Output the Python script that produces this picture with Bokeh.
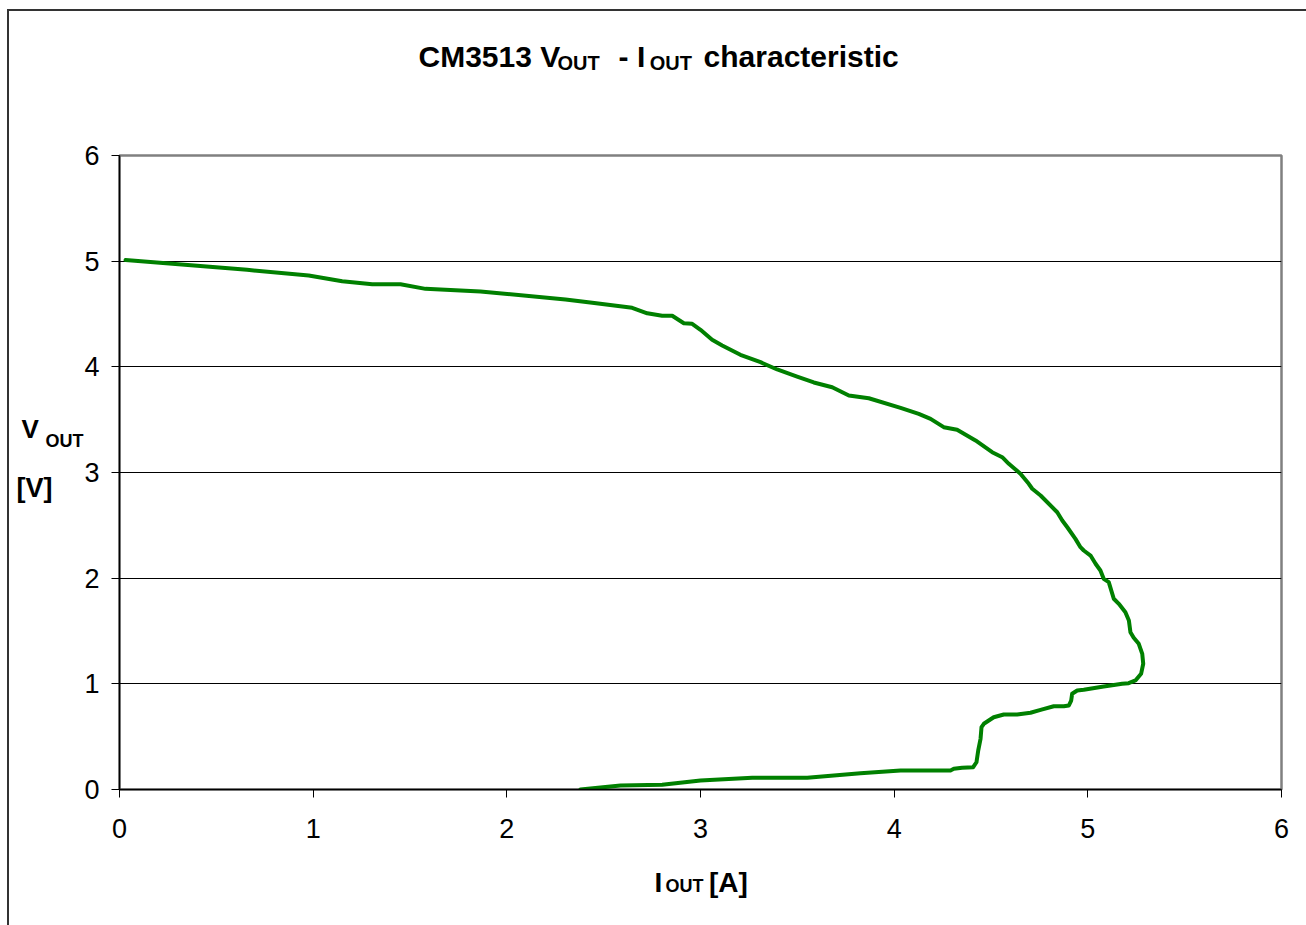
from bokeh.plotting import figure
from bokeh.models import Range1d, FixedTicker, Label
from bokeh.embed import file_html
from bokeh.resources import INLINE

# ---- data ----
i_out = [0.031, 0.659, 0.977, 1.150, 1.305, 1.451, 1.580, 1.864, 2.303, 2.441,
         2.647, 2.725, 2.802, 2.854, 2.914, 2.957, 3.000, 3.060, 3.112, 3.206,
         3.310, 3.396, 3.499, 3.585, 3.680, 3.766, 3.869, 4.033, 4.127, 4.188,
         4.256, 4.325, 4.420, 4.506, 4.558, 4.592, 4.652, 4.695, 4.713, 4.756,
         4.842, 4.868, 4.894, 4.936, 4.962, 4.979, 5.014, 5.040, 5.065, 5.082,
         5.108, 5.134, 5.160, 5.194, 5.212, 5.220, 5.237, 5.263, 5.281, 5.286,
         5.275, 5.246, 5.211, 5.177, 5.143, 5.082, 4.979, 4.945, 4.919, 4.914,
         4.902, 4.876, 4.824, 4.756, 4.704, 4.635, 4.566, 4.514, 4.463, 4.451,
         4.446, 4.434, 4.425, 4.408, 4.351, 4.308, 4.291, 4.033, 3.826, 3.551,
         3.267, 3.000, 2.802, 2.587, 2.380]
v_out = [5.010, 4.918, 4.864, 4.810, 4.782, 4.782, 4.738, 4.713, 4.637, 4.606,
         4.559, 4.507, 4.483, 4.483, 4.413, 4.407, 4.350, 4.256, 4.202, 4.114,
         4.044, 3.975, 3.908, 3.852, 3.807, 3.729, 3.703, 3.612, 3.555, 3.508,
         3.429, 3.404, 3.303, 3.192, 3.145, 3.082, 2.988, 2.893, 2.846, 2.782,
         2.624, 2.546, 2.482, 2.372, 2.293, 2.262, 2.214, 2.136, 2.073, 1.994,
         1.962, 1.805, 1.757, 1.678, 1.599, 1.489, 1.436, 1.379, 1.284, 1.190,
         1.095, 1.032, 1.006, 1.000, 0.991, 0.975, 0.944, 0.937, 0.906, 0.842,
         0.795, 0.788, 0.788, 0.754, 0.726, 0.710, 0.710, 0.684, 0.622, 0.590,
         0.480, 0.369, 0.258, 0.211, 0.205, 0.196, 0.180, 0.180, 0.154, 0.111,
         0.111, 0.085, 0.044, 0.038, 0.000]
x_ticks = [0, 1, 2, 3, 4, 5, 6]
y_ticks = [0, 1, 2, 3, 4, 5, 6]

W, H = 1306, 925
L, R, T, B = 119, 25, 155, 136
FW, FH = W - L - R, H - T - B

p = figure(width=W, height=H, output_backend="svg", toolbar_location=None,
           x_range=Range1d(0, 6), y_range=Range1d(0, 6),
           min_border_left=L, min_border_right=R, min_border_top=T, min_border_bottom=B)
p.background_fill_color = "white"
p.border_fill_alpha = 0
p.outline_line_color = "#808080"
p.outline_line_width = 2.5
# outer chart-area frame (left and top edges), drawn as CSS inset shadows
p.styles = {"box-shadow": "inset 7px 9px 0 0 #ffffff, inset 9px 11px 0 0 #333333",
            "background-color": "#ffffff"}

FONT = "Liberation Sans"
for ax, tk in ((p.xaxis, x_ticks), (p.yaxis, y_ticks)):
    ax.ticker = FixedTicker(ticks=tk)
    ax.minor_tick_line_color = None
    ax.major_tick_in = 0
    ax.major_tick_out = 8
    ax.axis_line_color = "black"
    ax.axis_line_width = 1.5
    ax.major_tick_line_color = "black"
    ax.major_tick_line_width = 1
    ax.major_label_text_font = FONT
    ax.major_label_text_font_size = "27px"
    ax.major_label_text_color = "black"
p.xaxis.major_label_standoff = 21
p.yaxis.major_label_standoff = 12

p.xgrid.grid_line_color = None
p.ygrid.grid_line_color = "black"
p.ygrid.grid_line_width = 1

p.line(i_out, v_out, line_color="#008000", line_width=4, line_join="round", line_cap="round")


# helpers converting canvas pixels to data coords (for text placement only)
def dx(px):
    return (px - L) / FW * 6


def dy(py):
    return (T + FH - py) / FH * 6


def lab(text, px, py, size, side):
    p.add_layout(Label(x=dx(px), y=dy(py), text=text, text_font=FONT,
                       text_font_size=f"{size}px", text_font_style="bold",
                       text_color="black", text_align="left",
                       text_baseline="middle"), side)


NB = "\u00a0"
# title: CM3513 V_OUT - I_OUT characteristic
lab("CM3513 V" + NB * 7 + "-" + NB + "I" + NB * 7 + "characteristic", 418, 56, 30, "above")
lab("OUT" + NB * 9 + "OUT", 557, 62, 20, "above")

# y-axis label: V_OUT [V]
lab("V", 21, 428, 26, "above")
lab("OUT", 45, 440, 18, "above")
lab("[V]", 16, 487, 27, "above")

# x-axis label: I_OUT [A]
lab("I" + NB * 6 + "[A]", 654, 882, 28, "below")
lab("OUT", 665, 885, 18, "below")

open("out.html", "w").write(file_html(p, INLINE))
